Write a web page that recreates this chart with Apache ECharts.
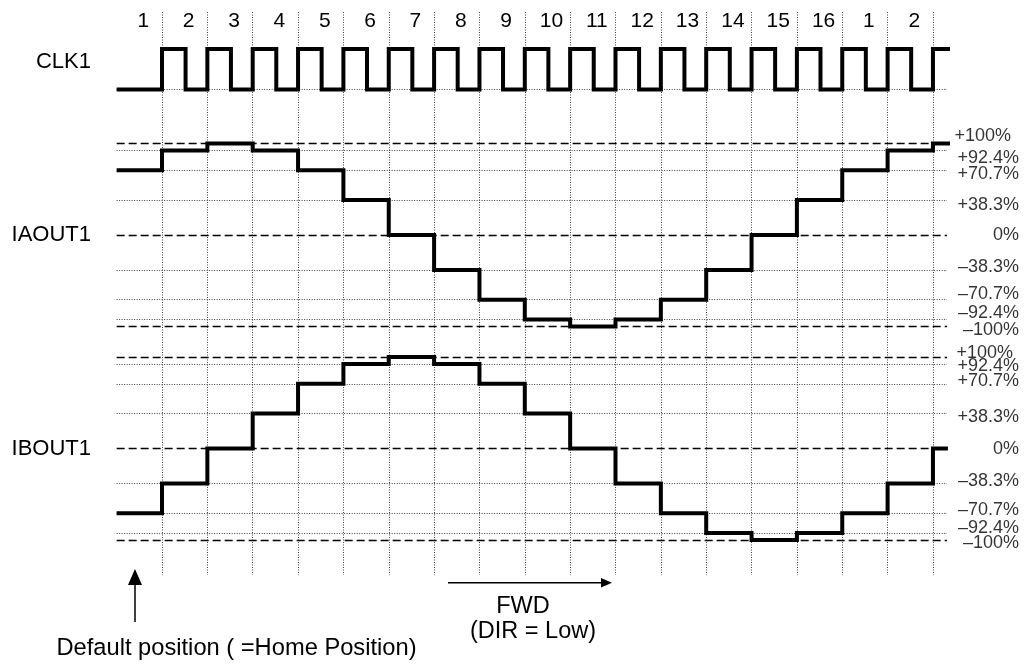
<!DOCTYPE html>
<html>
<head>
<meta charset="utf-8">
<script src="https://cdn.jsdelivr.net/npm/echarts@6/dist/echarts.min.js"></script>
<style>
html, body { margin: 0; padding: 0; background: #fff; }
#chart { width: 1025px; height: 664px; }
</style>
</head>
<body>
<div id="chart"></div>
<script>
// step numbers printed above the clock
var stepLabels = ['1', '2', '3', '4', '5', '6', '7', '8', '9', '10', '11', '12', '13', '14', '15', '16', '1', '2']

// CLK1: time of each edge (in clock periods) and the level after it
var clkTime = [-1, 0, 0.52, 1, 1.52, 2, 2.52, 3, 3.52, 4, 4.52, 5, 5.52, 6, 6.52, 7, 7.52, 8, 8.52,
  9, 9.52, 10, 10.52, 11, 11.52, 12, 12.52, 13, 13.52, 14, 14.52, 15, 15.52, 16, 16.52, 17, 17.5]
var clkLevel = [0, 1, 0, 1, 0, 1, 0, 1, 0, 1, 0, 1, 0, 1, 0, 1, 0, 1, 0,
  1, 0, 1, 0, 1, 0, 1, 0, 1, 0, 1, 0, 1, 0, 1, 0, 1, 1]

// coil currents: start of each step and current in %
var stepTime = [-1, 0, 1, 2, 3, 4, 5, 6, 7, 8, 9, 10, 11, 12, 13, 14, 15, 16, 17]
var iaLevel = [70.7, 92.4, 100, 92.4, 70.7, 38.3, 0, -38.3, -70.7, -92.4, -100, -92.4, -70.7, -38.3, 0, 38.3, 70.7, 92.4, 100]
var ibLevel = [-70.7, -38.3, 0, 38.3, 70.7, 92.4, 100, 92.4, 70.7, 38.3, 0, -38.3, -70.7, -92.4, -100, -92.4, -70.7, -38.3, 0]
var iaEnd = 17.38
var ibEnd = 17.33

// reference current levels and their labels
var levels = [100, 92.4, 70.7, 38.3, 0, -38.3, -70.7, -92.4, -100]
var levelText = ['+100%', '+92.4%', '+70.7%', '+38.3%', '0%', '\u201338.3%', '\u201370.7%', '\u201392.4%', '\u2013100%']

// layout
var unit = 45.35
var xMin = -1
var xMax = 17.31
var gLeft = 162 + xMin * unit
var gWidth = (xMax - xMin) * unit
var font = '"Liberation Sans", Arial, Helvetica, sans-serif'
var labelNudgeA = [[-8, -7], [0, 8], [0, 4], [0, 5], [0, 0], [0, -3], [0, -6], [0, -7], [0, 3.5]]
var labelNudgeB = [[-6, -4], [0, 2], [0, -3], [0, 3.5], [0, 0.5], [0, -2.5], [0, -3], [0, -5], [0, 3]]

function steps (time, level, end) {
  var pts = []
  for (var i = 0; i < time.length; i++) pts.push([time[i], level[i]])
  if (end != null) pts.push([end, level[level.length - 1]])
  return pts
}

function levelLines () {
  return levels.map(function (v) {
    var major = v === 0 || Math.abs(v) === 100
    return {
      yAxis: v,
      lineStyle: major
        ? {type: [8, 4], width: 1.4, color: '#000'}
        : {type: [1, 1.5], width: 1, color: '#444'}
    }
  })
}

function levelLabels (nudge) {
  return levels.map(function (v, i) {
    return {
      value: [xMax, v],
      label: {formatter: levelText[i], offset: [72 + nudge[i][0], nudge[i][1]]}
    }
  })
}

function traceSeries (name, idx, data) {
  return {
    name: name,
    type: 'line',
    xAxisIndex: idx,
    yAxisIndex: idx,
    step: 'end',
    data: data,
    symbol: 'none',
    clip: false,
    silent: true,
    z: 5,
    lineStyle: {color: '#000', width: 4, join: 'miter', cap: 'butt'}
  }
}

function labelSeries (idx, nudge) {
  return {
    type: 'scatter',
    xAxisIndex: idx,
    yAxisIndex: idx,
    symbolSize: 1,
    itemStyle: {color: 'transparent'},
    clip: false,
    silent: true,
    z: 3,
    data: levelLabels(nudge),
    label: {
      show: true,
      position: 'inside',
      align: 'right',
      verticalAlign: 'middle',
      color: '#000',
      fontSize: 18,
      fontFamily: font
    },
    markLine: {
      silent: true,
      symbol: 'none',
      label: {show: false},
      data: levelLines()
    }
  }
}

function yAxisFor (idx, min, max, name) {
  return {
    type: 'value',
    gridIndex: idx,
    min: min,
    max: max,
    name: name,
    nameLocation: 'middle',
    nameRotate: 0,
    nameGap: gLeft - 91,
    nameTextStyle: {color: '#000', fontSize: 22, fontFamily: font},
    axisLine: {show: false},
    axisTick: {show: false},
    axisLabel: {show: false},
    splitLine: {show: false}
  }
}

function xAxisFor (idx) {
  return {
    type: 'value',
    gridIndex: idx,
    min: xMin,
    max: xMax,
    interval: 1,
    axisLine: {show: false},
    axisTick: {show: false},
    axisLabel: {show: false},
    splitLine: {show: false}
  }
}

var chart = echarts.init(document.getElementById('chart'))

var bgX = xAxisFor(0)
bgX.splitLine = {show: true, showMinLine: false, showMaxLine: false, lineStyle: {type: [1, 1.5], width: 1, color: '#444'}}

var stepX = {
  type: 'value',
  gridIndex: 4,
  position: 'top',
  min: 0,
  max: stepLabels.length - 1,
  interval: 1,
  axisLine: {show: false},
  axisTick: {show: false},
  splitLine: {show: false},
  axisLabel: {
    show: true,
    showMinLabel: true,
    showMaxLabel: true,
    margin: 9,
    verticalAlign: 'middle',
    color: '#000',
    fontSize: 21,
    fontFamily: font,
    formatter: function (v) { return stepLabels[Math.round(v)] }
  }
}

chart.setOption({
  animation: false,
  backgroundColor: '#fff',
  grid: [
    {left: gLeft, width: gWidth, top: 12, height: 563},
    {left: gLeft, width: gWidth, top: 10.12, height: 103.68},
    {left: gLeft, width: gWidth, top: 134.35, height: 201.3},
    {left: gLeft, width: gWidth, top: 347.85, height: 201.3},
    {left: gLeft + unit / 2 + 4, width: (stepLabels.length - 1) * unit, top: 30, height: 10}
  ],
  xAxis: [bgX, xAxisFor(1), xAxisFor(2), xAxisFor(3), stepX],
  yAxis: [
    {type: 'value', gridIndex: 0, show: false},
    yAxisFor(1, -0.6, 1.96, 'CLK1'),
    yAxisFor(2, -110, 110, 'IAOUT1'),
    yAxisFor(3, -110, 110, 'IBOUT1'),
    {type: 'value', gridIndex: 4, show: false}
  ],
  series: [
    {
      type: 'line',
      xAxisIndex: 1,
      yAxisIndex: 1,
      data: [],
      markLine: {
        silent: true,
        symbol: 'none',
        label: {show: false},
        data: [{yAxis: 0, lineStyle: {type: [1, 1.5], width: 1, color: '#444'}}]
      }
    },
    traceSeries('CLK1', 1, steps(clkTime, clkLevel)),
    labelSeries(2, labelNudgeA),
    traceSeries('IAOUT1', 2, steps(stepTime, iaLevel, iaEnd)),
    labelSeries(3, labelNudgeB),
    traceSeries('IBOUT1', 3, steps(stepTime, ibLevel, ibEnd))
  ],
  graphic: [
    {type: 'line', shape: {x1: 135, y1: 622, x2: 135, y2: 582}, style: {stroke: '#000', lineWidth: 1.5}},
    {type: 'polygon', shape: {points: [[135, 569], [128, 585], [142, 585]]}, style: {fill: '#000'}},
    {type: 'line', shape: {x1: 448, y1: 582.7, x2: 602, y2: 582.7}, style: {stroke: '#000', lineWidth: 1.5}},
    {type: 'polygon', shape: {points: [[612, 582.7], [601, 578], [601, 587.4]]}, style: {fill: '#000'}},
    {
      type: 'text', x: 236.5, y: 648,
      style: {text: 'Default position ( =Home Position)', fill: '#000', font: '23.7px ' + font, textAlign: 'center', textVerticalAlign: 'middle'}
    },
    {
      type: 'text', x: 523, y: 606.7,
      style: {text: 'FWD', fill: '#000', font: '23.5px ' + font, textAlign: 'center', textVerticalAlign: 'middle'}
    },
    {
      type: 'text', x: 533, y: 631.7,
      style: {text: '(DIR = Low)', fill: '#000', font: '23.5px ' + font, textAlign: 'center', textVerticalAlign: 'middle'}
    }
  ]
})
</script>
</body>
</html>
